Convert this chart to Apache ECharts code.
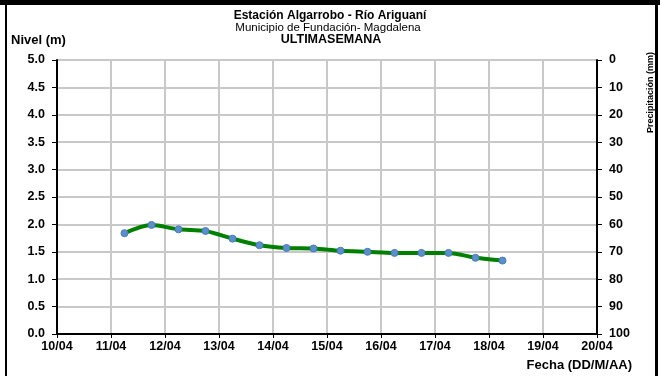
<!DOCTYPE html>
<html>
<head>
<meta charset="utf-8">
<script src="https://cdn.jsdelivr.net/npm/echarts@6/dist/echarts.min.js"></script>
<style>
  html, body { margin: 0; padding: 0; background: #fff; }
  #chart { width: 660px; height: 376px; }
</style>
</head>
<body>
<div id="chart"></div>
<script>
// lecturas cada 12 horas (06:00 y 18:00)
var fechas = [
  "2019-04-11 06:00", "2019-04-11 18:00", "2019-04-12 06:00", "2019-04-12 18:00",
  "2019-04-13 06:00", "2019-04-13 18:00", "2019-04-14 06:00", "2019-04-14 18:00",
  "2019-04-15 06:00", "2019-04-15 18:00", "2019-04-16 06:00", "2019-04-16 18:00",
  "2019-04-17 06:00", "2019-04-17 18:00", "2019-04-18 06:00"
];
var nivel = [1.84, 1.99, 1.91, 1.88, 1.74, 1.62, 1.57, 1.56, 1.52, 1.50, 1.48, 1.48, 1.48, 1.39, 1.34];

var fechaMin = "2019-04-10 00:00";
var fechaMax = "2019-04-20 00:00";
var DIA = 86400000;

function toMs(s) {
  var p = s.split(/[- :]/);
  return Date.UTC(+p[0], +p[1] - 1, +p[2], +p[3], +p[4]);
}
function pad(n) { return (n < 10 ? "0" : "") + n; }

var serie = fechas.map(function (f, i) { return [toMs(f), nivel[i]]; });

var font = "Liberation Sans, Arial, sans-serif";
var chart = echarts.init(document.getElementById("chart"));

var option = {
  animation: false,
  backgroundColor: "#fff",
  grid: { left: 57, right: 63, top: 60, bottom: 42 },
  xAxis: {
    type: "value",
    min: toMs(fechaMin),
    max: toMs(fechaMax),
    interval: DIA,
    axisLine: { lineStyle: { color: "#000", width: 2 } },
    axisTick: { show: true, length: 4, lineStyle: { color: "#000", width: 1 } },
    axisLabel: {
      color: "#000", fontWeight: "bold", fontSize: 12.5, fontFamily: font, margin: 6,
      formatter: function (v) {
        var d = new Date(v);
        return pad(d.getUTCDate()) + "/" + pad(d.getUTCMonth() + 1);
      }
    },
    splitLine: { show: true, lineStyle: { color: "#c8c8c8", width: 2 } }
  },
  yAxis: [{
    type: "value",
    min: 0, max: 5, interval: 0.5,
    axisLine: { show: true, lineStyle: { color: "#000", width: 2 } },
    axisTick: { show: true, length: 5, lineStyle: { color: "#000" } },
    axisLabel: {
      color: "#000", fontWeight: "bold", fontSize: 12.5, fontFamily: font, margin: 12,
      formatter: function (v) { return v.toFixed(1); }
    },
    splitLine: { show: true, lineStyle: { color: "#c8c8c8", width: 2 } }
  }, {
    type: "value",
    position: "right",
    inverse: true,
    min: 0, max: 100, interval: 10,
    axisLine: { show: true, lineStyle: { color: "#000", width: 2 } },
    axisTick: { show: true, length: 5, lineStyle: { color: "#000" } },
    axisLabel: { color: "#000", fontWeight: "bold", fontSize: 12.5, fontFamily: font, margin: 12 },
    splitLine: { show: false }
  }],
  series: [{
    type: "line",
    data: serie,
    smooth: 0.3,
    symbol: "circle",
    symbolSize: 7,
    lineStyle: { color: "#008000", width: 4 },
    itemStyle: { color: "#5b8fcb", borderColor: "#4a7ab8", borderWidth: 1 }
  }],
  graphic: [
    // marco
    { type: "rect", shape: { x: 0, y: 0, width: 660, height: 5 }, style: { fill: "#000" } },
    { type: "rect", shape: { x: 5, y: 0, width: 2, height: 376 }, style: { fill: "#000" } },
    { type: "rect", shape: { x: 655, y: 0, width: 3, height: 376 }, style: { fill: "#000" } },
    // titulos
    { type: "text", x: 330, y: 16, style: { text: "Estación Algarrobo - Río Ariguaní", font: "bold 12px " + font, fill: "#000", textAlign: "center", textVerticalAlign: "middle" } },
    { type: "text", x: 328, y: 28, style: { text: "Municipio de Fundación- Magdalena", font: "11.5px " + font, fill: "#000", textAlign: "center", textVerticalAlign: "middle" } },
    { type: "text", x: 331, y: 40, style: { text: "ULTIMASEMANA", font: "bold 12.5px " + font, fill: "#000", textAlign: "center", textVerticalAlign: "middle" } },
    { type: "text", x: 11, y: 40, style: { text: "Nivel (m)", font: "bold 13px " + font, fill: "#000", textVerticalAlign: "middle" } },
    { type: "text", x: 632, y: 365, style: { text: "Fecha (DD/M/AA)", font: "bold 13px " + font, fill: "#000", textAlign: "right", textVerticalAlign: "middle" } },
    { type: "text", x: 646, y: 133, rotation: Math.PI / 2,
      style: { text: "Precipitación (mm)", font: "bold 9px " + font, fill: "#000" } }
  ]
};
chart.setOption(option);
</script>
</body>
</html>
